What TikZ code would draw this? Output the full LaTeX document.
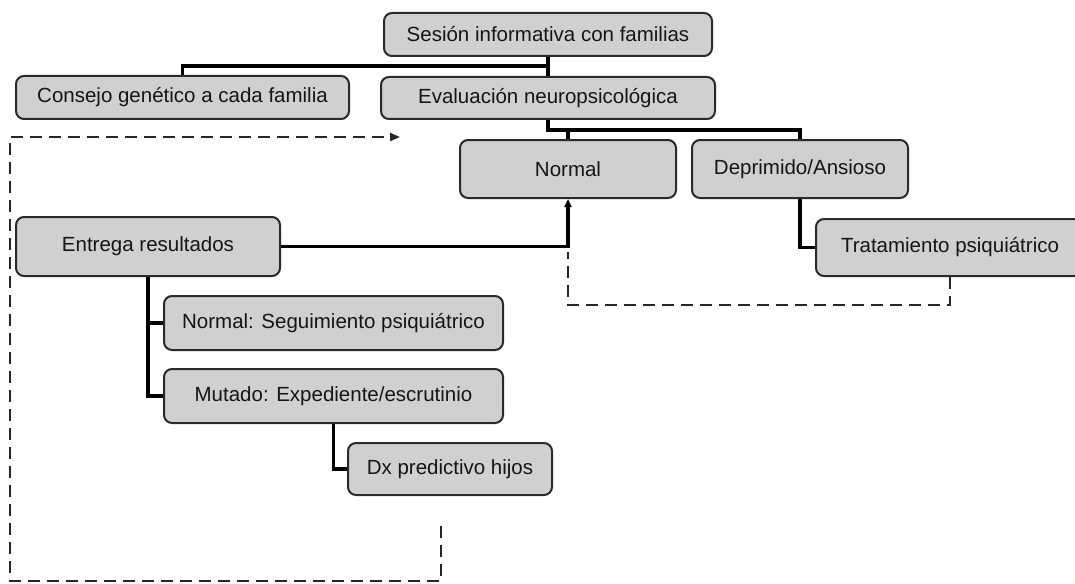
\documentclass[tikz,border=0pt]{standalone}
\usepackage{fontspec}
\setmainfont{Liberation Sans}
\usetikzlibrary{arrows.meta}
\definecolor{boxfill}{HTML}{D0D0D0}
\definecolor{boxline}{HTML}{2A2A2A}
\definecolor{txt}{HTML}{151515}
\begin{document}
\begin{tikzpicture}[x=1pt,y=-1pt,
  flowbox/.style={draw=boxline,fill=boxfill,line width=2pt,rounded corners=8pt,
    inner sep=0pt,text=txt,font=\fontsize{20.5}{24}\selectfont,anchor=center},
  link/.style={draw=black,line width=3.2pt},
  dashlink/.style={draw=black!85,line width=2pt,dash pattern=on 12pt off 7pt}]
\useasboundingbox[fill=white] (0,0) rectangle (1075,583);

% boxes
\node[flowbox,minimum width=328pt,minimum height=43pt] (ses) at (548,34.5) {Sesión informativa con familias};
\node[flowbox,minimum width=333pt,minimum height=43pt] (cons) at (182.5,97.5) {Consejo genético a cada familia};
\node[flowbox,minimum width=334pt,minimum height=42pt] (eval) at (548,98) {Evaluación neuropsicológica};
\node[flowbox,minimum width=216pt,minimum height=58pt] (norm) at (568,169) {Normal};
\node[flowbox,minimum width=216pt,minimum height=58pt] (dep) at (800,169) {Deprimido/Ansioso};
\node[flowbox,minimum width=264pt,minimum height=59pt] (ent) at (148,246.5) {Entrega resultados};
\node[flowbox,minimum width=268pt,minimum height=57pt] (trat) at (950,247.5) {Tratamiento psiquiátrico};
\node[flowbox,minimum width=339pt,minimum height=54pt] (seg) at (333.5,323) {Normal: Seguimiento psiquiátrico};
\node[flowbox,minimum width=339pt,minimum height=54pt] (mut) at (333.5,396) {Mutado: Expediente/escrutinio};
\node[flowbox,minimum width=204pt,minimum height=52pt] (dx) at (450,469) {Dx predictivo hijos};

% junction coordinates
\coordinate (j1) at (548,66);
\coordinate (j2) at (548,130);
\coordinate (d1) at (950,305);
\coordinate (d2) at (568,305);
\coordinate (d3) at (568,252);
\coordinate (b1) at (441,526);
\coordinate (b2) at (441,581);
\coordinate (b3) at (10,581);
\coordinate (b4) at (10,137);
\coordinate (b5) at (400,137);

% solid connectors
\draw[link] (ses.south) -- (eval.north);
\draw[link] (cons.north) |- (j1);
\draw[link] (eval.south) -- (j2) -| (dep.north);
\draw[link] (norm.north) -- (norm.north |- j2);
\draw[link,-{Triangle[length=8pt,width=7pt]}] (ent.east) -| (norm.south);
\draw[link] (dep.south) |- (trat.west);
\draw[link] (ent.south) |- (mut.west);
\draw[link] (ent.south |- seg.west) -- (seg.west);
\draw[link] (mut.south) |- (dx.west);

% dashed connectors
\draw[dashlink] (trat.south) -- (d1) -- (d2) -- (d3);
\draw[dashlink,-{Triangle[length=10pt,width=8pt]}] (b1) -- (b2) -- (b3) -- (b4) -- (b5);
\end{tikzpicture}
\end{document}
